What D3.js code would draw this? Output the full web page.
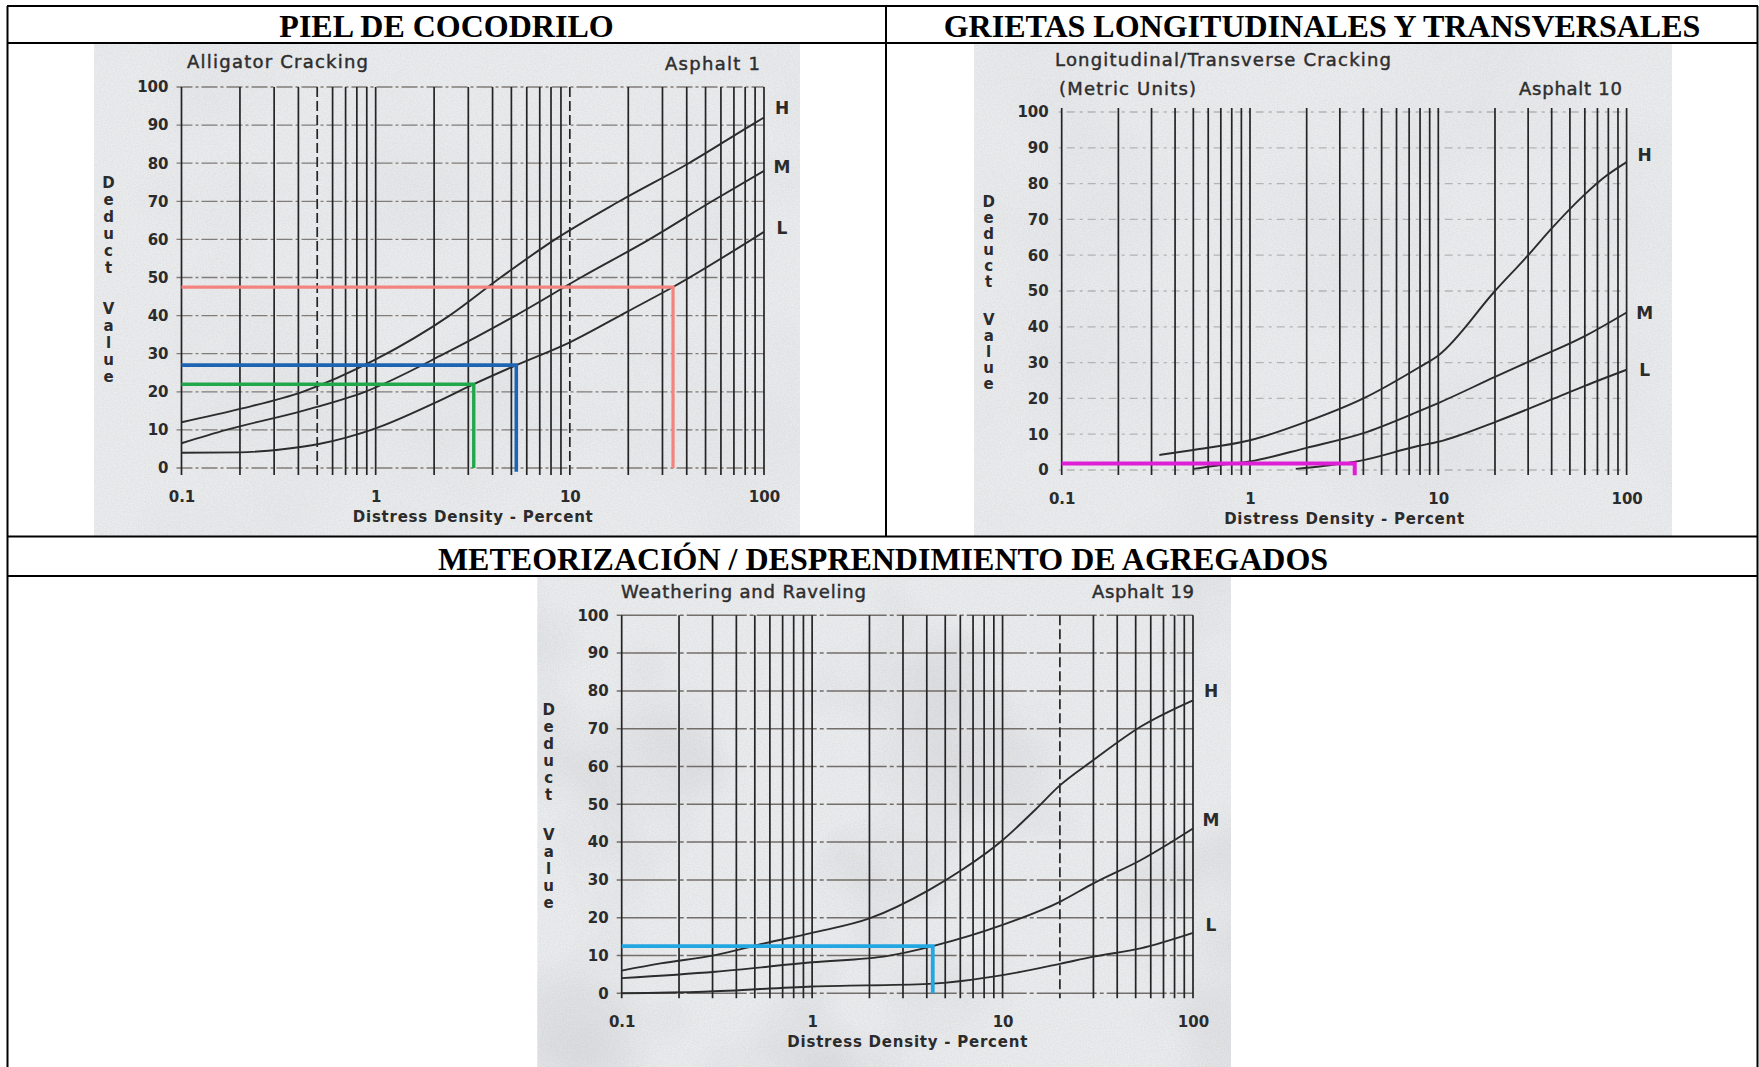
<!DOCTYPE html>
<html>
<head>
<meta charset="utf-8">
<script src="https://cdn.jsdelivr.net/npm/d3@7"></script>
<style>
  html, body { margin: 0; padding: 0; background: #ffffff; }
  svg { display: block; }
</style>
</head>
<body>
<svg id="page" width="1759" height="1067"></svg>
<script>
// ---------- shared axis values ----------
const gridDensities = [0.1, 0.2, 0.3, 0.4, 0.5, 0.6, 0.7, 0.8, 0.9,
                       1, 2, 3, 4, 5, 6, 7, 8, 9,
                       10, 20, 30, 40, 50, 60, 70, 80, 90, 100];
const densityLabels = [0.1, 1, 10, 100];
const deductTicks = [0, 10, 20, 30, 40, 50, 60, 70, 80, 90, 100];
const severityLevels = ["H", "M", "L"];
const headerTitles = ["PIEL DE COCODRILO",
                      "GRIETAS LONGITUDINALES Y TRANSVERSALES",
                      "METEORIZACIÓN / DESPRENDIMIENTO DE AGREGADOS"];

// ---------- Alligator Cracking (Asphalt 1) ----------
const alligatorDensityH = [0.1, 0.2, 0.42, 1, 2.4, 4.4, 8.4, 18, 41, 86, 100];
const alligatorValueH   = [12, 15.5, 20, 28.5, 40, 50, 60, 70, 80, 90, 92];
const alligatorDensityM = [0.1, 0.17, 0.42, 0.88, 2.26, 5.25, 11.4, 25.7, 54, 100];
const alligatorValueM   = [6.5, 10, 15, 20, 30, 40, 50, 60, 70, 78];
const alligatorDensityL = [0.1, 0.2, 0.34, 0.51, 1, 2, 3.2, 5.3, 10, 19.7, 34, 100];
const alligatorValueL   = [4, 4.1, 5, 6.3, 10.4, 17, 22, 27, 33, 41, 47.5, 62];
const alligatorLabelAt  = [94.5, 79, 63];
const alligatorReadDensity = [34, 5.3, 3.2];
const alligatorReadValue   = [47.5, 27, 22];
const alligatorReadEnd     = [0, -1, 0];

// ---------- Longitudinal/Transverse Cracking (Asphalt 10) ----------
const longDensityH = [0.33, 0.5, 1, 2, 4, 7.8, 10, 20, 30, 40, 60, 75, 100];
const longValueH   = [4.2, 5.6, 8.3, 13.5, 20, 28.5, 32, 50, 60, 67.5, 77, 81.5, 86];
const longDensityM = [0.5, 0.7, 1, 2, 4, 7.8, 10, 20, 30, 60, 100];
const longValueM   = [0.3, 1.4, 2.4, 6.2, 10.3, 16.3, 18.7, 26, 30.2, 37.4, 44];
const longDensityL = [1.75, 2.5, 3.7, 7.8, 10, 20, 40, 60, 100];
const longValueL   = [0.3, 1.2, 2.4, 6.7, 7.9, 13.4, 19.7, 23.5, 28];
const longLabelAt  = [88, 44, 28];
const longReadDensity = [3.6];
const longReadValue   = [1.8];
const longReadEnd     = [-1.5];

// ---------- Weathering and Raveling (Asphalt 19) ----------
const weatherDensityH = [0.1, 0.16, 0.31, 0.56, 1, 2, 4.1, 6.1, 10, 14.8, 20, 30, 53, 100];
const weatherValueH   = [6, 7.9, 10.1, 13.2, 16, 19.8, 27.3, 32.6, 40.5, 48.5, 55, 61.7, 70.5, 77.5];
const weatherDensityM = [0.1, 0.31, 1, 2.5, 4.3, 10, 20, 30, 53, 100];
const weatherValueM   = [4, 5.7, 8.2, 9.9, 12.5, 18.1, 24.2, 29.1, 35.2, 43.6];
const weatherDensityL = [0.1, 0.27, 1, 4.1, 10, 20, 30, 53, 100];
const weatherValueL   = [0, 0.4, 1.8, 2.5, 4.8, 7.8, 9.7, 11.9, 16];
const weatherLabelAt  = [80, 46, 18];
const weatherReadDensity = [4.3];
const weatherReadValue   = [12.5];
const weatherReadEnd     = [0];

const zip = (xs, ys) => xs.map((v, i) => [v, ys[i]]);

// ---------- layout of the three scanned charts ----------
const panels = [
  {
    titles: [{ text: "Alligator Cracking", x: 187, y: 68, w: 181 }],
    code: { text: "Asphalt 1", x: 760, y: 70, w: 95 },
    paper: [94, 44, 800, 536],
    plot: { x0: 181.5, x1: 764, y0: 468, y1: 87 },
    curves: [zip(alligatorDensityH, alligatorValueH),
             zip(alligatorDensityM, alligatorValueM),
             zip(alligatorDensityL, alligatorValueL)],
    labelAt: alligatorLabelAt,
    reads: alligatorReadDensity.map((d, i) => ({ d, v: alligatorReadValue[i], end: alligatorReadEnd[i] })),
    readColors: ["#f3837e", "#1d65b3", "#21a84d"],
    readWidth: [3.2, 3.6, 3.4],
    hGrid: { stroke: "#6f6a66", dash: "16 3 3 3", width: 1.3, opacity: 0.85, left: 5 },
    vTop: 0, vBottom: 7,
    dashedV: [0.5, 10],
    blotch: 0.22
  },
  {
    titles: [{ text: "Longitudinal/Transverse Cracking", x: 1055, y: 66, w: 336 },
             { text: "(Metric Units)", x: 1059, y: 95, w: 137 }],
    code: { text: "Asphalt 10", x: 1622, y: 95, w: 103 },
    paper: [974, 44, 1672, 536],
    plot: { x0: 1061.7, x1: 1626.6, y0: 470, y1: 112 },
    curves: [zip(longDensityH, longValueH),
             zip(longDensityM, longValueM),
             zip(longDensityL, longValueL)],
    labelAt: longLabelAt,
    reads: longReadDensity.map((d, i) => ({ d, v: longReadValue[i], end: longReadEnd[i] })),
    readColors: ["#de1fd6"],
    readWidth: [4],
    hGrid: { stroke: "#8a8a8a", dash: "3 5 8 5", width: 1.3, opacity: 0.55, left: 3 },
    vTop: 4, vBottom: 5,
    dashedV: [],
    blotch: 0.22
  },
  {
    titles: [{ text: "Weathering and Raveling", x: 621, y: 598, w: 245 }],
    code: { text: "Asphalt 19", x: 1194, y: 598, w: 102 },
    paper: [537.5, 576, 1231, 1067],
    plot: { x0: 621.7, x1: 1193, y0: 993.3, y1: 615.3 },
    curves: [zip(weatherDensityH, weatherValueH),
             zip(weatherDensityM, weatherValueM),
             zip(weatherDensityL, weatherValueL)],
    labelAt: weatherLabelAt,
    reads: weatherReadDensity.map((d, i) => ({ d, v: weatherReadValue[i], end: weatherReadEnd[i] })),
    readColors: ["#22a7e2"],
    readWidth: [3.8],
    hGrid: { stroke: "#5f5a56", dash: "60 3 4 3", width: 1.5, opacity: 0.85, left: 5 },
    vTop: 0, vBottom: 5,
    dashedV: [20],
    blotch: 0.7
  }
];

const svg = d3.select("#page");
const ink = "#2b2b2b";
const sans = "'DejaVu Sans', 'Liberation Sans', sans-serif";

// paper texture: fine grain plus broad smudges
const defs = svg.append("defs");
const grain = defs.append("filter").attr("id", "grain")
  .attr("x", 0).attr("y", 0).attr("width", 1).attr("height", 1);
grain.append("feTurbulence").attr("type", "fractalNoise")
  .attr("baseFrequency", 0.7).attr("numOctaves", 2).attr("seed", 7);
grain.append("feColorMatrix").attr("type", "matrix")
  .attr("values", "0 0 0 0 0.35  0 0 0 0 0.35  0 0 0 0 0.38  0 0 0 0.25 -0.07");
const smudge = defs.append("filter").attr("id", "smudge")
  .attr("x", 0).attr("y", 0).attr("width", 1).attr("height", 1);
smudge.append("feTurbulence").attr("type", "fractalNoise")
  .attr("baseFrequency", 0.006).attr("numOctaves", 3).attr("seed", 11);
smudge.append("feColorMatrix").attr("type", "matrix")
  .attr("values", "0 0 0 0 0.42  0 0 0 0 0.42  0 0 0 0 0.45  0 0 0 0.9 -0.4");

function drawPanel(p) {
  const g = svg.append("g");
  const x = d3.scaleLog().domain([0.1, 100]).range([p.plot.x0, p.plot.x1]);
  const y = d3.scaleLinear().domain([0, 100]).range([p.plot.y0, p.plot.y1]);
  const [px0, py0, px1, py1] = p.paper;

  // scanned sheet
  g.append("rect").attr("x", px0).attr("y", py0)
    .attr("width", px1 - px0).attr("height", py1 - py0).attr("fill", "#ebecee");
  g.append("rect").attr("x", px0).attr("y", py0)
    .attr("width", px1 - px0).attr("height", py1 - py0)
    .attr("filter", "url(#smudge)").attr("opacity", p.blotch);
  g.append("rect").attr("x", px0).attr("y", py0)
    .attr("width", px1 - px0).attr("height", py1 - py0)
    .attr("filter", "url(#grain)");

  // horizontal grid
  g.append("g").selectAll("line").data(deductTicks).join("line")
    .attr("x1", p.plot.x0 - p.hGrid.left).attr("x2", p.plot.x1)
    .attr("y1", d => y(d)).attr("y2", d => y(d))
    .attr("stroke", p.hGrid.stroke).attr("stroke-width", p.hGrid.width)
    .attr("stroke-dasharray", p.hGrid.dash).attr("opacity", p.hGrid.opacity);

  // vertical log grid
  g.append("g").selectAll("line").data(gridDensities).join("line")
    .attr("x1", d => x(d)).attr("x2", d => x(d))
    .attr("y1", p.plot.y1 - p.vTop).attr("y2", p.plot.y0 + p.vBottom)
    .attr("stroke", "#242424").attr("stroke-width", 1.7)
    .attr("stroke-dasharray", d => p.dashedV.includes(d) ? "10 4" : null);

  // deduct-value curves
  const line = d3.line().x(d => x(d[0])).y(d => y(d[1])).curve(d3.curveMonotoneX);
  g.append("g").selectAll("path").data(p.curves).join("path")
    .attr("d", line).attr("fill", "none")
    .attr("stroke", "#2c2c2c").attr("stroke-width", 1.9);

  // severity labels
  g.append("g").selectAll("text").data(severityLevels).join("text")
    .attr("x", p.plot.x1 + 18).attr("y", (d, i) => y(p.labelAt[i]))
    .attr("dy", "0.36em").attr("text-anchor", "middle")
    .attr("font-family", sans).attr("font-weight", "bold").attr("font-size", 17)
    .attr("fill", ink).text(d => d);

  // readings traced onto the chart
  const readLine = d3.line().x(d => x(d[0])).y(d => y(d[1]));
  g.append("g").selectAll("path").data(p.reads).join("path")
    .attr("d", r => readLine([[0.1, r.v], [r.d, r.v], [r.d, r.end]]))
    .attr("fill", "none")
    .attr("stroke", (r, i) => p.readColors[i])
    .attr("stroke-width", (r, i) => p.readWidth[i]);

  // axes
  const yAxis = g.append("g").attr("transform", `translate(${p.plot.x0},0)`)
    .call(d3.axisLeft(y).tickValues(deductTicks).tickSize(0).tickPadding(13));
  const xAxis = g.append("g").attr("transform", `translate(0,${p.plot.y0})`)
    .call(d3.axisBottom(x).tickValues(densityLabels).tickFormat(d => String(d))
      .tickSize(0).tickPadding(23));
  [yAxis, xAxis].forEach(a => {
    a.select(".domain").remove();
    a.selectAll("text").attr("font-family", sans).attr("font-weight", "bold")
      .attr("font-size", 15).attr("fill", ink);
  });

  // axis titles
  g.append("text")
    .attr("x", (p.plot.x0 + p.plot.x1) / 2).attr("y", p.plot.y0 + 54)
    .attr("text-anchor", "middle").attr("font-family", sans).attr("font-weight", "bold")
    .attr("font-size", 15).attr("fill", ink)
    .attr("textLength", 240).attr("lengthAdjust", "spacing")
    .text("Distress Density - Percent");

  const letters = ["D", "e", "d", "u", "c", "t", null, "V", "a", "l", "u", "e"];
  const slots = [0, 1, 2, 3, 4, 5, null, 7.4, 8.4, 9.4, 10.4, 11.4];
  const h = p.plot.y0 - p.plot.y1;
  const top = p.plot.y1 + 0.25 * h, step = (0.51 * h) / 11.4;
  g.append("g").selectAll("text")
    .data(letters.map((l, i) => ({ l, s: slots[i] })).filter(d => d.l))
    .join("text")
    .attr("x", p.plot.x0 - 73).attr("y", d => top + d.s * step)
    .attr("dy", "0.36em").attr("text-anchor", "middle")
    .attr("font-family", sans).attr("font-weight", "bold").attr("font-size", 15)
    .attr("fill", ink).text(d => d.l);

  // chart titles
  const titleText = sel => sel
    .attr("font-family", sans).attr("font-size", 18).attr("fill", "#2e2e2e")
    .attr("stroke", "#2e2e2e").attr("stroke-width", 0.45)
    .attr("lengthAdjust", "spacing");
  p.titles.forEach(t => {
    g.append("text").attr("x", t.x).attr("y", t.y)
      .call(titleText).attr("textLength", t.w).text(t.text);
  });
  g.append("text").attr("x", p.code.x).attr("y", p.code.y).attr("text-anchor", "end")
    .call(titleText).attr("textLength", p.code.w).text(p.code.text);
}

panels.forEach(drawPanel);

// ---------- table frame and headings ----------
const frame = svg.append("g").attr("stroke", "#000").attr("stroke-width", 2);
const rules = [
  [7, 6, 1758, 6], [7, 43, 1758, 43], [7, 536.5, 1758, 536.5], [7, 576, 1758, 576],
  [7.5, 6, 7.5, 1067], [1757.5, 6, 1757.5, 1067], [886, 6, 886, 536.5]
];
frame.selectAll("line").data(rules).join("line")
  .attr("x1", d => d[0]).attr("y1", d => d[1]).attr("x2", d => d[2]).attr("y2", d => d[3]);

const headerPos = [[446.5, 36.5], [1322, 36.5], [883, 569.5]];
svg.append("g").selectAll("text").data(headerTitles).join("text")
  .attr("x", (d, i) => headerPos[i][0]).attr("y", (d, i) => headerPos[i][1])
  .attr("text-anchor", "middle")
  .attr("font-family", "'Liberation Serif', 'Times New Roman', serif")
  .attr("font-weight", "bold").attr("font-size", 32).attr("fill", "#000")
  .text(d => d);
</script>
</body>
</html>
